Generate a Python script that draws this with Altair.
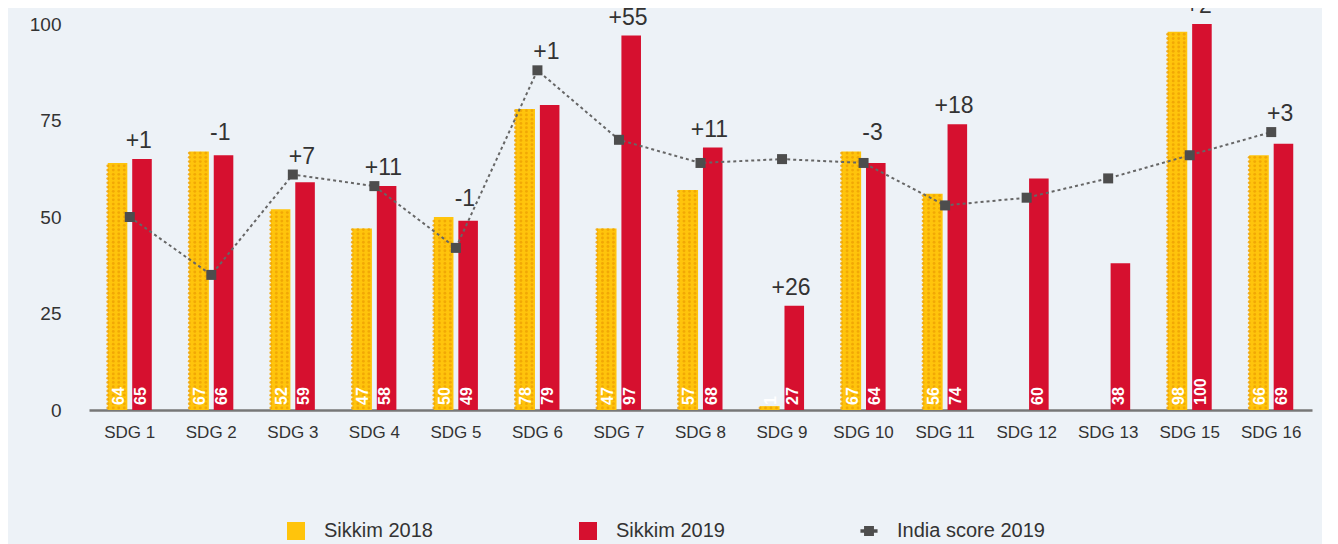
import altair as alt
import pandas as pd

sdgs = ["SDG 1", "SDG 2", "SDG 3", "SDG 4", "SDG 5", "SDG 6", "SDG 7", "SDG 8",
        "SDG 9", "SDG 10", "SDG 11", "SDG 12", "SDG 13", "SDG 15", "SDG 16"]
sikkim_2018 = [64, 67, 52, 47, 50, 78, 47, 57, 1, 67, 56, None, None, 98, 66]
sikkim_2019 = [65, 66, 59, 58, 49, 79, 97, 68, 27, 64, 74, 60, 38, 100, 69]
india_2019 = [50, 35, 61, 58, 42, 88, 70, 64, 65, 64, 53, 55, 60, 66, 72]
change_labels = ["+1", "-1", "+7", "+11", "-1", "+1", "+55", "+11", "+26", "-3",
                 "+18", "", "", "+2", "+3"]
y_ticks = [0, 25, 50, 75, 100]
bar_series = ["Sikkim 2018", "Sikkim 2019"]
bar_colors = ["#FFC40C", "#D6102F"]
india_name = "India score 2019"
india_color = "#4D4D4D"
dot_color = "#EFA305"

rows = []
for i, s in enumerate(sdgs):
    if sikkim_2018[i] is not None:
        rows.append({"sdg": s, "series": "Sikkim 2018", "value": sikkim_2018[i]})
    rows.append({"sdg": s, "series": "Sikkim 2019", "value": sikkim_2019[i]})
bars_df = pd.DataFrame(rows)

# texture dots for the 2018 bars (fill pattern derived from the bar values)
DOT_PITCH = 1.1
dot_rows = []
for s, v in zip(sdgs, sikkim_2018):
    if v is None:
        continue
    k = 0
    while (k + 0.5) * DOT_PITCH < v:
        for col in range(4):
            dot_rows.append({"sdg": s, "col": col, "dy": (k + 0.5) * DOT_PITCH})
        k += 1
dots_df = pd.DataFrame(dot_rows)

tops = []
for a, b, c in zip(sikkim_2018, sikkim_2019, india_2019):
    bar_max = max(v for v in (a, b) if v is not None)
    tops.append(c if bar_max < c < bar_max + 10 else bar_max)
summary_df = pd.DataFrame({"sdg": sdgs, "india": india_2019,
                           "change": change_labels, "top": tops,
                           "lname": [india_name] * len(sdgs)})

FONT = "Liberation Sans"

x_enc = alt.X("sdg:N", sort=sdgs,
              scale=alt.Scale(paddingInner=0.46, paddingOuter=0.23),
              axis=alt.Axis(title=None, labelAngle=0, labelFontSize=17,
                            labelColor="#333333", labelPadding=14, ticks=False,
                            domainColor="#777777", domainWidth=2.5, labelFont=FONT))
y_scale = alt.Scale(domain=[0, 100], nice=False)
y_axis = alt.Axis(values=y_ticks, title=None, grid=False, domain=False, ticks=False,
                  labelFontSize=19, labelPadding=28, labelColor="#333333", labelFont=FONT)
xoff = alt.XOffset("series:N", sort=bar_series, scale=alt.Scale(paddingInner=0.2))

india_shape = "M-0.95,-0.2H0.95V0.2H-0.95Z M-0.55,-0.55H0.55V0.55H-0.55Z"

legend_common = dict(title=None, orient="none", direction="horizontal",
                     legendY=497, symbolSize=324, symbolStrokeWidth=0,
                     labelFontSize=20, labelColor="#333333", labelFont=FONT,
                     labelOffset=18)

bars = alt.Chart(bars_df).mark_bar().encode(
    x=x_enc,
    xOffset=xoff,
    y=alt.Y("value:Q", scale=y_scale, axis=y_axis),
    color=alt.Color("series:N",
                    scale=alt.Scale(domain=bar_series, range=bar_colors),
                    legend=alt.Legend(legendX=197, symbolType="square",
                                      columnPadding=145, **legend_common)),
)

dots = alt.Chart(dots_df).mark_circle(size=8, color=dot_color, opacity=0.85).encode(
    x=x_enc,
    xOffset=alt.XOffset("col:O", scale=alt.Scale(domain=list(range(9)),
                                                 paddingInner=0, paddingOuter=0)),
    y=alt.Y("dy:Q", scale=y_scale),
)

bar_labels = alt.Chart(bars_df).mark_text(
    angle=270, align="left", baseline="middle", dx=5, color="white",
    fontSize=16, fontWeight="bold", font=FONT
).encode(
    x=x_enc,
    xOffset=alt.XOffset("series:N", sort=bar_series, scale=alt.Scale(paddingInner=0.2)),
    y=alt.datum(0),
    text="value:Q",
)

line = alt.Chart(summary_df).mark_line(
    color="#666666", strokeDash=[3, 3], strokeWidth=2
).encode(x=x_enc, y=alt.Y("india:Q", scale=y_scale))

points = alt.Chart(summary_df).mark_point(
    shape="square", filled=True, size=100, color=india_color, opacity=1
).encode(x=x_enc, y=alt.Y("india:Q", scale=y_scale))

india_legend = alt.Chart(summary_df).mark_point(
    filled=True, size=324, color=india_color, opacity=0
).encode(
    x=x_enc,
    y=alt.Y("india:Q", scale=y_scale),
    shape=alt.Shape("lname:N",
                    scale=alt.Scale(domain=[india_name], range=[india_shape]),
                    legend=alt.Legend(legendX=770, symbolOpacity=1,
                                      symbolFillColor=india_color,
                                      **legend_common)),
)

changes = alt.Chart(summary_df).mark_text(
    dx=9, dy=-18, fontSize=23, color="#333333", baseline="middle", font=FONT
).encode(x=x_enc, y=alt.Y("top:Q", scale=y_scale), text="change:N")

chart = alt.layer(bars, dots, bar_labels, line, points, india_legend, changes).resolve_scale(
    xOffset="independent"
).properties(
    width=1223, height=386,
    autosize=alt.AutoSizeParams(type="none"),
    padding={"left": 81, "top": 16, "right": 10, "bottom": 134},
).configure(background="#EDF2F7").configure_view(stroke=None)

chart.save("out.html", embed_options={"renderer": "svg", "actions": False})
